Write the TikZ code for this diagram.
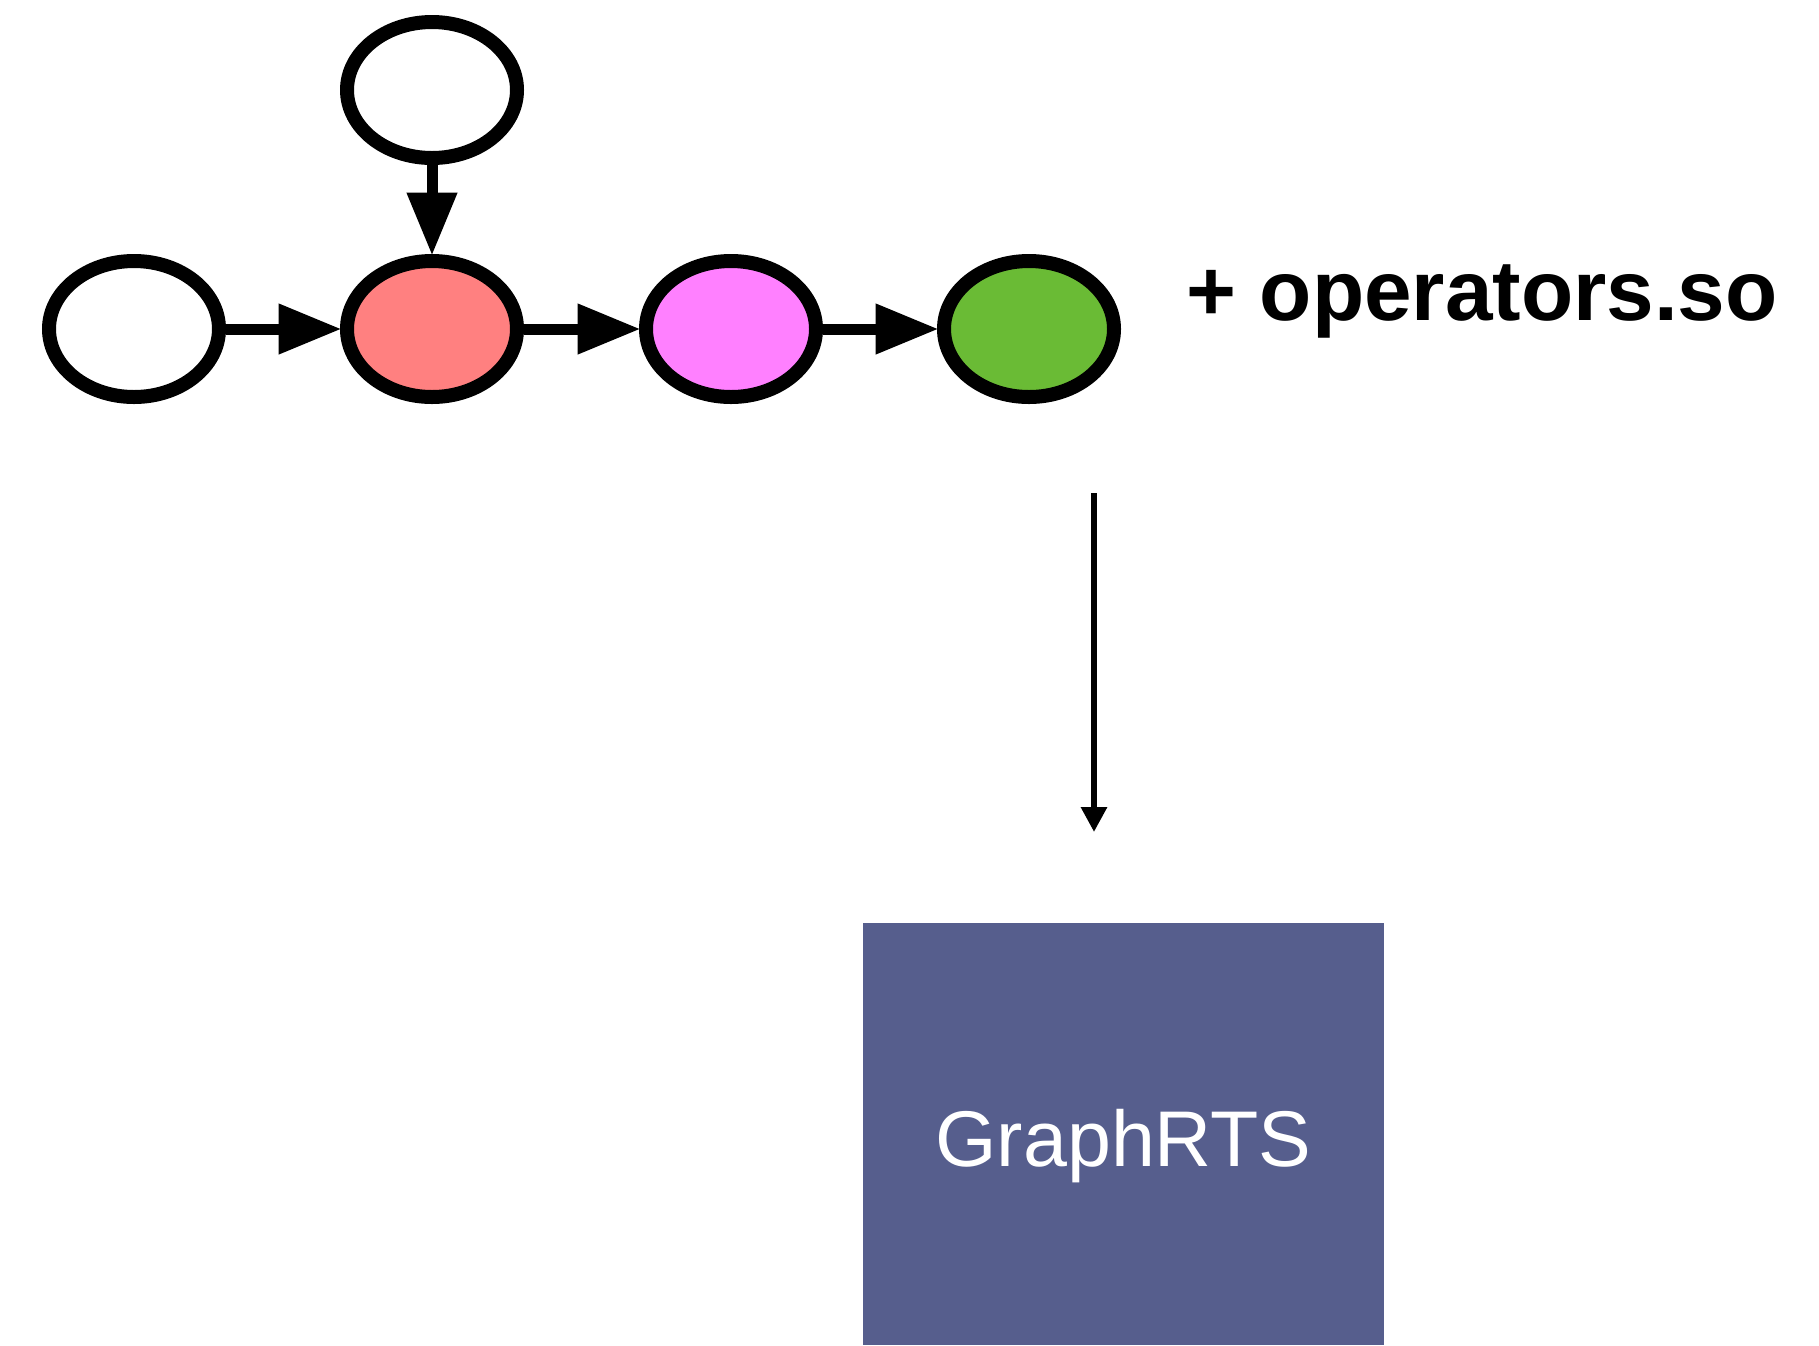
\documentclass[tikz,border=0pt]{standalone}
\usepackage{fontspec}
\setmainfont{Liberation Sans}
\usetikzlibrary{shapes.geometric,arrows.meta}
\definecolor{salmon}{RGB}{255,128,128}
\definecolor{magentap}{RGB}{255,128,255}
\definecolor{grassg}{RGB}{106,187,53}
\definecolor{rtsblue}{RGB}{86,94,141}
\tikzset{
  opnode/.style={ellipse, draw=black, line width=14pt, minimum width=170pt, minimum height=136pt, inner sep=0pt},
  flow/.style={line width=11pt, -{Triangle[length=63pt,width=48pt]}, shorten >=-1.5pt},
  thinflow/.style={line width=6pt, -{Triangle[length=25pt,width=25pt]}},
  rtsbox/.style={rectangle, fill=rtsblue, draw=none, minimum width=521pt, minimum height=422pt, inner sep=0pt},
}
\begin{document}
\begin{tikzpicture}[x=1pt,y=-1pt]
\useasboundingbox (0,0) rectangle (1819,1345);
\node[opnode, fill=white] (top) at (432,90) {};
\node[opnode, fill=white] (in) at (134,329) {};
\node[opnode, fill=salmon] (a) at (432,329) {};
\node[opnode, fill=magentap] (b) at (731,329) {};
\node[opnode, fill=grassg] (c) at (1029,329) {};
\draw[flow] (in) -- (a);
\draw[flow] (a) -- (b);
\draw[flow] (b) -- (c);
\draw[flow] (top) -- (a);
\node[anchor=base west, inner sep=0pt, font=\fontsize{85.5}{90}\selectfont\bfseries] (ops) at (1186,320) {+ operators.so};
\coordinate (arrstart) at (1094,493);
\coordinate (arrend) at (1094,832);
\draw[thinflow] (arrstart) -- (arrend);
\node[rtsbox] (rts) at (1123.5,1134) {};
\node[anchor=base, inner sep=0pt, text=white, font=\fontsize{79}{84}\selectfont] (rtslabel) at (1123.5,1166) {GraphRTS};
\end{tikzpicture}
\end{document}
